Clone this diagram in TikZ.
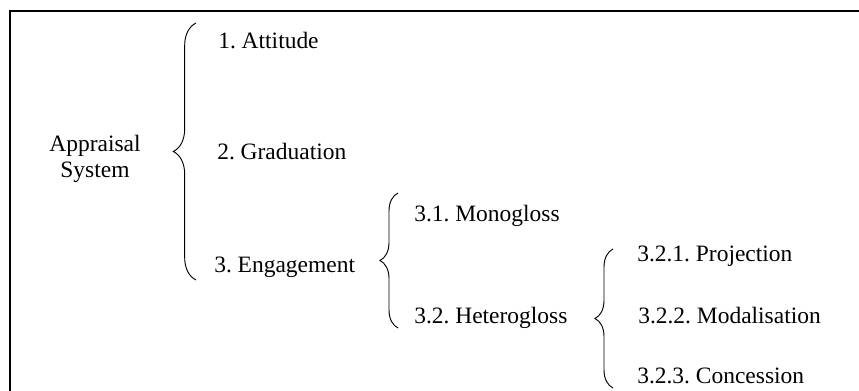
\documentclass[tikz,border=0pt]{standalone}
\usepackage{fontspec}
\setmainfont{Liberation Serif}
\usetikzlibrary{positioning, decorations.pathreplacing}
\frenchspacing
\tikzset{
  item/.style={anchor=base west, inner sep=0pt,
    font=\fontsize{17.6}{19.5}\selectfont},
  grpbrace/.style={decorate, decoration={brace, amplitude=#1},
    line width=0.7pt},
  frame/.style={line width=1.5pt}
}

\begin{document}
\begin{tikzpicture}[x=0.75pt, y=-0.75pt]
  \useasboundingbox (0,0) rectangle (859,391);
  % Frame (left and top edges only)
  \draw[frame] (10,391) -- (10,11.5) -- (859,11.5);

  % Root
  \node[item, anchor=center, align=center] (root) at (95,158.5) {Appraisal\\System};

  % First level
  \node[item] (att) at (218,49) {1. Attitude};
  \node[item] (grad) at (217,160) {2. Graduation};
  \node[item] (eng) at (214,273) {3. Engagement};

  % Second level
  \node[item] (mono) at (414,222) {3.1. Monogloss};
  \node[item] (hetero) at (414,323) {3.2. Heterogloss};

  % Third level
  \node[item] (proj) at (637,262) {3.2.1. Projection};
  \node[item] (modal) at (638,323) {3.2.2. Modalisation};
  \node[item] (conc) at (637,383) {3.2.3. Concession};

  % Braces
  \coordinate (b1top) at (196,23);
  \coordinate (b1bot) at (196,280);
  \coordinate (b2top) at (398,193);
  \coordinate (b2bot) at (398,328);
  \coordinate (b3top) at (613,249);
  \coordinate (b3bot) at (613,388);
  \draw[grpbrace=17pt] (b1bot) -- (b1top);
  \draw[grpbrace=13.5pt] (b2bot) -- (b2top);
  \draw[grpbrace=13.5pt] (b3bot) -- (b3top);
\end{tikzpicture}
\end{document}
